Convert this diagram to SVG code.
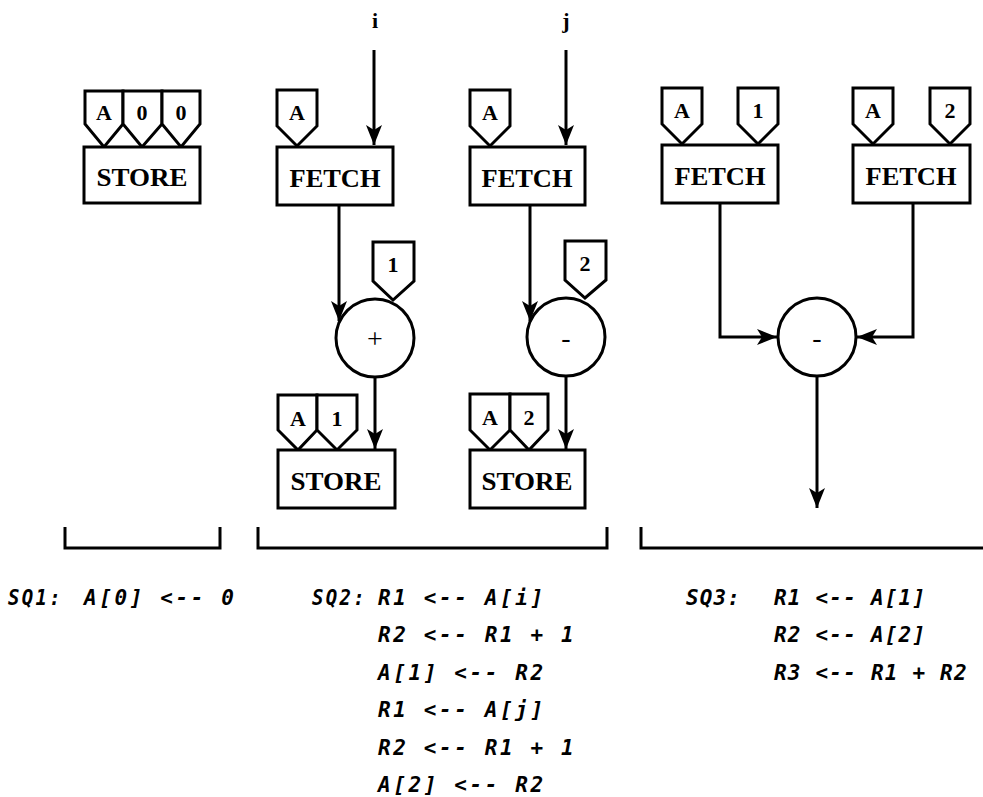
<svg xmlns="http://www.w3.org/2000/svg" width="983" height="797" viewBox="0 0 983 797">
<style>
.box{fill:#fff;stroke:#000;stroke-width:3}
.tag{fill:#fff;stroke:#000;stroke-width:3;stroke-linejoin:miter}
.op{fill:#fff;stroke:#000;stroke-width:3}
.lbl{font-family:"Liberation Serif","DejaVu Serif",serif;font-weight:bold;font-size:25px;text-anchor:middle}
.tl{font-family:"Liberation Serif","DejaVu Serif",serif;font-weight:bold;font-size:22px;text-anchor:middle}
.opt{font-family:"Liberation Serif","DejaVu Serif",serif;font-size:28px;text-anchor:middle}
.code{font-family:"DejaVu Sans Mono","Liberation Mono",monospace;font-weight:bold;font-style:italic;font-size:21px;letter-spacing:2.6px}
.code3{font-family:"DejaVu Sans Mono","Liberation Mono",monospace;font-weight:bold;font-style:italic;font-size:21px;letter-spacing:1.2px}
.ln{fill:none;stroke:#000;stroke-width:3}
</style>
<defs>
<marker id="ah" viewBox="0 0 20 16" refX="20" refY="8" markerWidth="20" markerHeight="16" markerUnits="userSpaceOnUse" orient="auto">
<path d="M0,0 L20,8 L0,16 L5,8 z" fill="#000"/>
</marker>
</defs>
<rect width="983" height="797" fill="#fff"/>

<g id="connectors">
<path class="ln" d="M374,50 V145" marker-end="url(#ah)"/>
<path class="ln" d="M566,50 V145" marker-end="url(#ah)"/>
<path class="ln" d="M339,205 V321" marker-end="url(#ah)"/>
<path class="ln" d="M530,205 V321" marker-end="url(#ah)"/>
<path class="ln" d="M375,377 V449" marker-end="url(#ah)"/>
<path class="ln" d="M566,376 V449" marker-end="url(#ah)"/>
<path class="ln" d="M720,203 V337 H777" marker-end="url(#ah)"/>
<path class="ln" d="M913,203 V337 H857" marker-end="url(#ah)"/>
<path class="ln" d="M817,376 V508" marker-end="url(#ah)"/>
</g>

<g id="store1">
<path class="tag" d="M85,91 H123 V124 L104,147 L85,124 Z"/>
<path class="tag" d="M123,91 H162 V124 L142,147 L123,124 Z"/>
<path class="tag" d="M162,91 H200 V124 L181,147 L162,124 Z"/>
<text class="tl" x="104" y="120">A</text>
<text class="tl" x="142" y="120">0</text>
<text class="tl" x="181" y="120">0</text>
<rect class="box" x="84" y="147" width="116" height="56"/>
<text class="lbl" x="142" y="186" textLength="91" lengthAdjust="spacingAndGlyphs">STORE</text>
</g>

<g id="input-i"><text class="tl" x="375" y="28">i</text></g>
<g id="input-j"><text class="tl" x="566" y="28">j</text></g>

<g id="fetch1">
<path class="tag" d="M277,90 H317 V126 L297,146 L277,126 Z"/>
<text class="tl" x="297" y="120">A</text>
<rect class="box" x="277" y="147" width="116" height="58"/>
<text class="lbl" x="335" y="187" textLength="91" lengthAdjust="spacingAndGlyphs">FETCH</text>
</g>

<g id="fetch2">
<path class="tag" d="M470,90 H510 V126 L490,146 L470,126 Z"/>
<text class="tl" x="490" y="120">A</text>
<rect class="box" x="470" y="147" width="115" height="58"/>
<text class="lbl" x="527" y="187" textLength="91" lengthAdjust="spacingAndGlyphs">FETCH</text>
</g>

<g id="plus">
<path class="tag" d="M373,242 H414 V281 L393,300 L373,281 Z"/>
<text class="tl" x="393" y="272">1</text>
<circle class="op" cx="375" cy="338" r="39"/>
<text class="opt" x="375" y="348">+</text>
</g>

<g id="minus1">
<path class="tag" d="M565,241 H606 V280 L585,298 L565,280 Z"/>
<text class="tl" x="585" y="271">2</text>
<circle class="op" cx="566" cy="337" r="39"/>
<text class="opt" x="566" y="347">-</text>
</g>

<g id="store2">
<path class="tag" d="M278,395 H317 V430 L298,450 L278,430 Z"/>
<path class="tag" d="M317,395 H357 V430 L337,450 L317,430 Z"/>
<text class="tl" x="298" y="426">A</text>
<text class="tl" x="337" y="426">1</text>
<rect class="box" x="278" y="450" width="117" height="58"/>
<text class="lbl" x="336" y="490" textLength="91" lengthAdjust="spacingAndGlyphs">STORE</text>
</g>

<g id="store3">
<path class="tag" d="M470,394 H510 V430 L490,450 L470,430 Z"/>
<path class="tag" d="M510,394 H548 V430 L529,450 L510,430 Z"/>
<text class="tl" x="490" y="425">A</text>
<text class="tl" x="529" y="425">2</text>
<rect class="box" x="470" y="450" width="115" height="58"/>
<text class="lbl" x="527" y="490" textLength="91" lengthAdjust="spacingAndGlyphs">STORE</text>
</g>

<g id="fetch3">
<path class="tag" d="M662,88 H702 V124 L682,144 L662,124 Z"/>
<path class="tag" d="M738,88 H778 V124 L758,144 L738,124 Z"/>
<text class="tl" x="682" y="118">A</text>
<text class="tl" x="758" y="118">1</text>
<rect class="box" x="662" y="145" width="116" height="58"/>
<text class="lbl" x="720" y="185" textLength="91" lengthAdjust="spacingAndGlyphs">FETCH</text>
</g>

<g id="fetch4">
<path class="tag" d="M853,88 H893 V124 L873,144 L853,124 Z"/>
<path class="tag" d="M930,88 H970 V124 L950,144 L930,124 Z"/>
<text class="tl" x="873" y="118">A</text>
<text class="tl" x="950" y="118">2</text>
<rect class="box" x="853" y="145" width="117" height="58"/>
<text class="lbl" x="911" y="185" textLength="91" lengthAdjust="spacingAndGlyphs">FETCH</text>
</g>

<g id="minus2">
<circle class="op" cx="817" cy="337" r="39"/>
<text class="opt" x="817" y="347">-</text>
</g>

<g id="brackets">
<path class="ln" d="M65,527 V548 H220 V527"/>
<path class="ln" d="M258,527 V548 H607 V527"/>
<path class="ln" d="M641,527 V548 H983"/>
</g>

<g id="sq1">
<text class="code" x="8" y="605" textLength="55" lengthAdjust="spacingAndGlyphs">SQ1:</text>
<text class="code" x="84" y="605">A[0] &lt;-- 0</text>
</g>
<g id="sq2">
<text class="code" x="312" y="605" textLength="55" lengthAdjust="spacingAndGlyphs">SQ2:</text>
<text class="code" x="378" y="605">R1 &lt;-- A[i]</text>
<text class="code" x="378" y="642">R2 &lt;-- R1 + 1</text>
<text class="code" x="378" y="680">A[1] &lt;-- R2</text>
<text class="code" x="378" y="717">R1 &lt;-- A[j]</text>
<text class="code" x="378" y="755">R2 &lt;-- R1 + 1</text>
<text class="code" x="378" y="792">A[2] &lt;-- R2</text>
</g>
<g id="sq3">
<text class="code3" x="686" y="605" textLength="55" lengthAdjust="spacingAndGlyphs">SQ3:</text>
<text class="code3" x="774" y="605">R1 &lt;-- A[1]</text>
<text class="code3" x="774" y="642">R2 &lt;-- A[2]</text>
<text class="code3" x="774" y="680">R3 &lt;-- R1 + R2</text>
</g>
</svg>
